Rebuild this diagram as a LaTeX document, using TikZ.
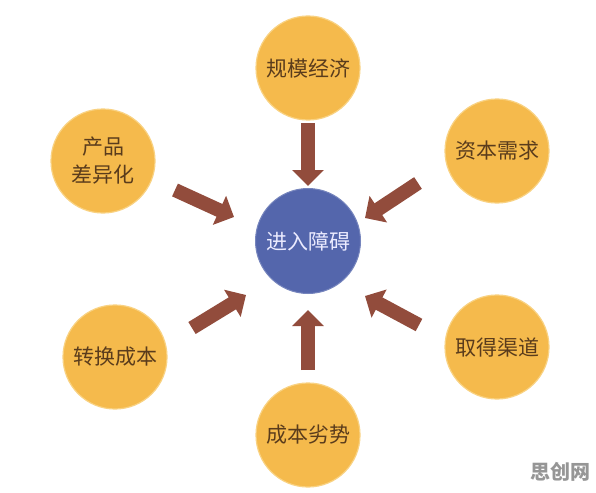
\documentclass[tikz,border=0pt]{standalone}
\usepackage{fontspec}
\newfontfamily\cjk{Noto Sans CJK SC}
\usetikzlibrary{arrows.meta}
\definecolor{orangefill}{RGB}{245,186,76}
\definecolor{orangerim}{RGB}{249,210,130}
\definecolor{bluefill}{RGB}{84,102,172}
\definecolor{arrowcol}{RGB}{146,76,60}
\definecolor{txtbrown}{RGB}{90,60,28}
\definecolor{wmgray}{RGB}{150,150,150}
\tikzset{
  factor/.style={circle, fill=orangefill, draw=orangerim, line width=1.2pt, minimum size=104pt, inner sep=0pt, align=center, text=txtbrown, font=\cjk\fontsize{21pt}{28pt}\selectfont},
  hub/.style={circle, fill=bluefill, draw=bluefill!80!white, line width=1pt, minimum size=105pt, inner sep=0pt, text=white!92!blue, font=\cjk\fontsize{21pt}{24pt}\selectfont},
  fatarrow/.style={draw=arrowcol, line width=14pt, -{Triangle[width=31pt,length=16pt]}},
}
\begin{document}
\begin{tikzpicture}[x=1pt,y=-1pt]
\useasboundingbox[fill=white] (0,0) rectangle (596,492);
\node[hub] (hub) at (308,241) {进入障碍};
\node[factor] (scale) at (308,68) {规模经济};
\node[factor] (prod) at (103,161) {产品\\差异化};
\node[factor] (capital) at (497,151) {资本需求};
\node[factor] (switch) at (115,357) {转换成本};
\node[factor] (channel) at (497,347) {取得渠道};
\node[factor] (cost) at (308,435) {成本劣势};
\node[text=wmgray, font=\cjk\bfseries\fontsize{20pt}{22pt}\selectfont] (wm) at (560,472) {思创网};
% arrow ends
\coordinate (t1) at (308,123); \coordinate (h1) at (308,186);
\coordinate (t2) at (175,190); \coordinate (h2) at (234,217);
\coordinate (t3) at (418,183); \coordinate (h3) at (365,218);
\coordinate (t4) at (192,328); \coordinate (h4) at (246,295);
\coordinate (t5) at (419,325); \coordinate (h5) at (365,296);
\coordinate (t6) at (308,370); \coordinate (h6) at (308,310);
\draw[fatarrow] (t1) -- (h1);
\draw[fatarrow] (t2) -- (h2);
\draw[fatarrow] (t3) -- (h3);
\draw[fatarrow] (t4) -- (h4);
\draw[fatarrow] (t5) -- (h5);
\draw[fatarrow] (t6) -- (h6);
\end{tikzpicture}
\end{document}
